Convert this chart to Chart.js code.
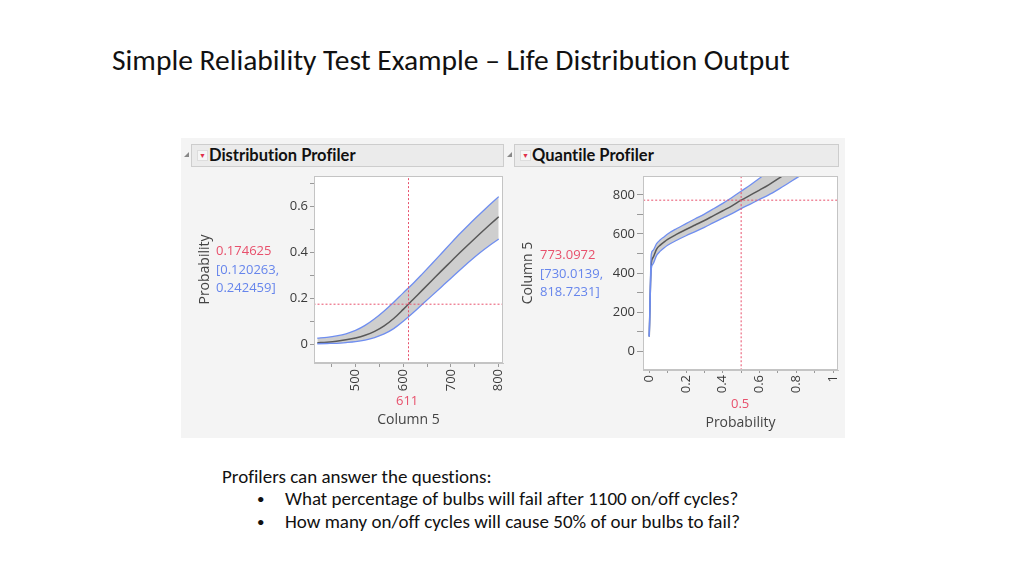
<!DOCTYPE html>
<html>
<head>
<meta charset="utf-8">
<script src="https://cdn.jsdelivr.net/npm/chart.js@4.4.1/dist/chart.umd.min.js"></script>
<style>
  body { margin:0; width:1024px; height:576px; background:#fff; position:relative; overflow:hidden; font-family: Carlito, Lato, sans-serif; font-variant-ligatures:none; }
  .abs { position:absolute; white-space:nowrap; }
  #title { left:112px; top:42px; font-size:29.5px; color:#111; }
  #panel { left:181px; top:138px; width:664px; height:300px; background:#f4f4f4; }
  .hdr { position:absolute; top:6px; height:21px; background:#ebebeb; border:1px solid #cdcdcd;
         font-family: Lato, sans-serif; font-weight:bold; font-size:16.5px; line-height:21px; color:#111; }
  .hdr .btn { position:absolute; left:5px; top:5px; width:9px; height:9px; background:#f6f6f6; border:1px solid #ddd;
              color:#e0304a; font-size:7px; line-height:9px; text-align:center; }
  .hdr .txt { position:absolute; left:17px; top:0; }
  .disc { position:absolute; width:0; height:0; border-left:5px solid transparent; border-bottom:5px solid #888; }
  .val { font-family:"Open Sans", sans-serif; font-size:13px; line-height:18.5px; }
  .red { color:#e8506c; }
  .blue { color:#6685ec; }
  canvas { position:absolute; }
  .note { font-size:19px; color:#111; }
  .bul { font-size:15px; color:#111; }
</style>
</head>
<body>
<div id="title" class="abs">Simple Reliability Test Example – Life Distribution Output</div>

<div id="panel" class="abs">
  <div class="disc" style="left:3px; top:14px;"></div>
  <div class="hdr" style="left:10px; width:311px;"><div class="btn">▼</div><div class="txt">Distribution Profiler</div></div>
  <div class="disc" style="left:326px; top:14px;"></div>
  <div class="hdr" style="left:333px; width:323px;"><div class="btn">▼</div><div class="txt">Quantile Profiler</div></div>
</div>

<canvas id="distChart" width="318" height="262" style="left:190px; top:172px;"></canvas>
<canvas id="quantChart" width="328" height="262" style="left:515px; top:172px;"></canvas>

<div class="abs val" style="left:216px; top:241px;"><span class="red">0.174625</span><br><span class="blue">[0.120263,<br>0.242459]</span></div>
<div class="abs val" style="left:540px; top:245px;"><span class="red">773.0972</span><br><span class="blue">[730.0139,<br>818.7231]</span></div>
<div class="abs val red" style="left:396px; top:391px;">611</div>
<div class="abs val red" style="left:731px; top:394px;">0.5</div>

<div class="abs note" style="left:222px; top:465px;">Profilers can answer the questions:</div>
<div class="abs bul" style="left:257px; top:490px;">•</div>
<div class="abs note" style="left:285px; top:487px;">What percentage of bulbs will fail after 1100 on/off cycles?</div>
<div class="abs bul" style="left:257px; top:513px;">•</div>
<div class="abs note" style="left:285px; top:510px;">How many on/off cycles will cause 50% of our bulbs to fail?</div>

<script>
// Distribution profiler: probability of failure vs cycles (Column 5)
const distCycles = [420, 440, 460, 480, 500, 520, 540, 560, 580, 600, 620, 640, 660, 680, 700, 720, 740, 760, 780, 800];
const distProb = [0.006, 0.009, 0.013, 0.019, 0.027, 0.039, 0.056, 0.080, 0.112, 0.152, 0.194, 0.236, 0.278, 0.320, 0.361, 0.402, 0.442, 0.481, 0.519, 0.556];
const distUpper = [0.026, 0.030, 0.036, 0.045, 0.060, 0.082, 0.111, 0.145, 0.183, 0.224, 0.264, 0.307, 0.351, 0.396, 0.441, 0.485, 0.527, 0.567, 0.606, 0.644];
const distLower = [0.002, 0.003, 0.004, 0.007, 0.011, 0.018, 0.029, 0.045, 0.068, 0.100, 0.136, 0.174, 0.212, 0.250, 0.288, 0.326, 0.363, 0.398, 0.430, 0.459];
const distXTicks = [450, 500, 550, 600, 650, 700, 750, 800];
const distXLabels = [500, 600, 700, 800];
const distYTicks = [0, 0.1, 0.2, 0.3, 0.4, 0.5, 0.6, 0.7];
const distYLabels = [0, 0.2, 0.4, 0.6];
const distCurrentX = 611;
const distCurrentY = 0.174625;

// Quantile profiler: cycles vs probability
const quantProb = [0, 0.011, 0.02, 0.04, 0.06, 0.08, 0.1, 0.15, 0.2, 0.25, 0.3, 0.35, 0.4, 0.45, 0.5, 0.55, 0.6, 0.65, 0.7, 0.75, 0.8, 0.85];
const quantCycles = [75, 450, 478, 522, 543, 558, 572, 599, 623, 646, 669, 694, 719, 744, 773, 799, 825, 852, 882, 915, 950, 990];
const quantUpper = [75, 495, 515, 550, 570, 585, 600, 628, 653, 678, 702, 729, 757, 787, 819, 851, 885, 922, 960, 1000, 1040, 1080];
const quantLower = [75, 420, 445, 490, 512, 528, 542, 568, 591, 612, 634, 658, 681, 704, 730, 753, 777, 800, 827, 856, 886, 915];
const quantXTicks = [0, 0.1, 0.2, 0.3, 0.4, 0.5, 0.6, 0.7, 0.8, 0.9, 1];
const quantXLabels = [0, 0.2, 0.4, 0.6, 0.8, 1];
const quantYTicks = [0, 100, 200, 300, 400, 500, 600, 700, 800];
const quantYLabels = [0, 200, 400, 600, 800];
const quantCurrentX = 0.5;
const quantCurrentY = 773.0972;

const FONT = '"Open Sans", sans-serif';
const BLUE = '#6f8ef0';
const RED = '#e8506c';

function pts(xs, ys) { return xs.map((x, i) => ({ x: x, y: ys[i] })); }

const plotFrame = {
  id: 'plotFrame',
  beforeDraw(chart) {
    const a = chart.chartArea, c = chart.ctx;
    c.save();
    c.fillStyle = '#fff';
    c.fillRect(a.left, a.top, a.right - a.left, a.bottom - a.top);
    c.restore();
  },
  afterDraw(chart) {
    const a = chart.chartArea, c = chart.ctx;
    c.save();
    c.strokeStyle = '#c4c4c4';
    c.lineWidth = 1;
    c.strokeRect(Math.round(a.left) + 0.5, Math.round(a.top) + 0.5, Math.round(a.right - a.left) - 1, Math.round(a.bottom - a.top) - 1);
    c.restore();
  }
};

function makeChart(id, o) {
  // datasets are drawn last-to-first, so the centre line goes under the blue band edges
  const datasets = [
    { data: [{ x: o.cx, y: o.yMin - 1 }, { x: o.cx, y: o.yMax + 1 }], borderColor: RED, borderWidth: 1, borderDash: [2, 2] },
    { data: [{ x: o.xMin - 1, y: o.cy }, { x: o.xMax + 1, y: o.cy }], borderColor: RED, borderWidth: 1, borderDash: [2, 2] },
    { data: pts(o.xs, o.up), borderColor: BLUE, borderWidth: 1.3 },
    { data: pts(o.xs, o.lo), borderColor: BLUE, borderWidth: 1.3, fill: 2, backgroundColor: 'rgba(190,190,190,0.75)' },
    { data: pts(o.xs, o.mid), borderColor: '#585858', borderWidth: 1.5 }
  ];
  return new Chart(document.getElementById(id), {
    type: 'line',
    data: { datasets: datasets },
    plugins: [plotFrame],
    options: {
      responsive: false,
      animation: false,
      events: [],
      layout: { padding: { top: 4, right: 5, left: 0, bottom: 0 } },
      elements: { point: { radius: 0 }, line: { cubicInterpolationMode: 'monotone' } },
      plugins: { legend: { display: false }, tooltip: { enabled: false }, filler: { drawTime: 'beforeDatasetsDraw' } },
      scales: {
        x: {
          type: 'linear', min: o.xMin, max: o.xMax,
          afterBuildTicks: s => { s.ticks = o.xTicks.map(v => ({ value: v })); },
          afterFit: s => { s.height = o.xHeight; s.paddingLeft = 0; s.paddingRight = 0; },
          grid: { drawOnChartArea: false, tickLength: o.xTick, color: '#9a9a9a' },
          border: { color: '#c4c4c4' },
          ticks: { autoSkip: false, minRotation: 90, maxRotation: 90, padding: 2, color: '#3a3a3a',
                   font: { family: FONT, size: 13 }, callback: v => o.xLabels.includes(v) ? String(v) : '' },
          title: { display: true, text: o.xTitle, color: '#444', font: { family: FONT, size: 14 }, padding: { top: 0, bottom: o.xTitlePad } }
        },
        y: {
          type: 'linear', min: o.yMin, max: o.yMax,
          afterBuildTicks: s => { s.ticks = o.yTicks.map(v => ({ value: v })); },
          afterFit: s => { s.width = o.yWidth; s.paddingTop = 0; s.paddingBottom = 0; },
          grid: { drawOnChartArea: false, tickLength: o.yTick, color: '#9a9a9a' },
          border: { color: '#c4c4c4' },
          ticks: { autoSkip: false, padding: 2, color: '#3a3a3a',
                   font: { family: FONT, size: 13 }, callback: v => o.yLabels.includes(v) ? String(v) : '' },
          title: { display: true, text: o.yTitle, color: '#444', font: { family: FONT, size: 14 }, padding: { top: o.yTitlePad, bottom: 0 } }
        }
      }
    }
  });
}

makeChart('distChart', {
  xs: distCycles, mid: distProb, up: distUpper, lo: distLower,
  xMin: 413, xMax: 809, yMin: -0.082, yMax: 0.734,
  xTicks: distXTicks, xLabels: distXLabels, yTicks: distYTicks, yLabels: distYLabels,
  cx: distCurrentX, cy: distCurrentY,
  xTitle: 'Column 5', yTitle: 'Probability',
  xHeight: 71, yWidth: 124, xTick: 4, yTick: 4, xTitlePad: 6, yTitlePad: 7
});

makeChart('quantChart', {
  xs: quantProb, mid: quantCycles, up: quantUpper, lo: quantLower,
  xMin: -0.034, xMax: 1.027, yMin: -97, yMax: 897,
  xTicks: quantXTicks, xLabels: quantXLabels, yTicks: quantYTicks, yLabels: quantYLabels,
  cx: quantCurrentX, cy: quantCurrentY,
  xTitle: 'Probability', yTitle: 'Column 5',
  xHeight: 64, yWidth: 128, xTick: 3, yTick: 6, xTitlePad: 3, yTitlePad: 5
});
</script>
</body>
</html>
